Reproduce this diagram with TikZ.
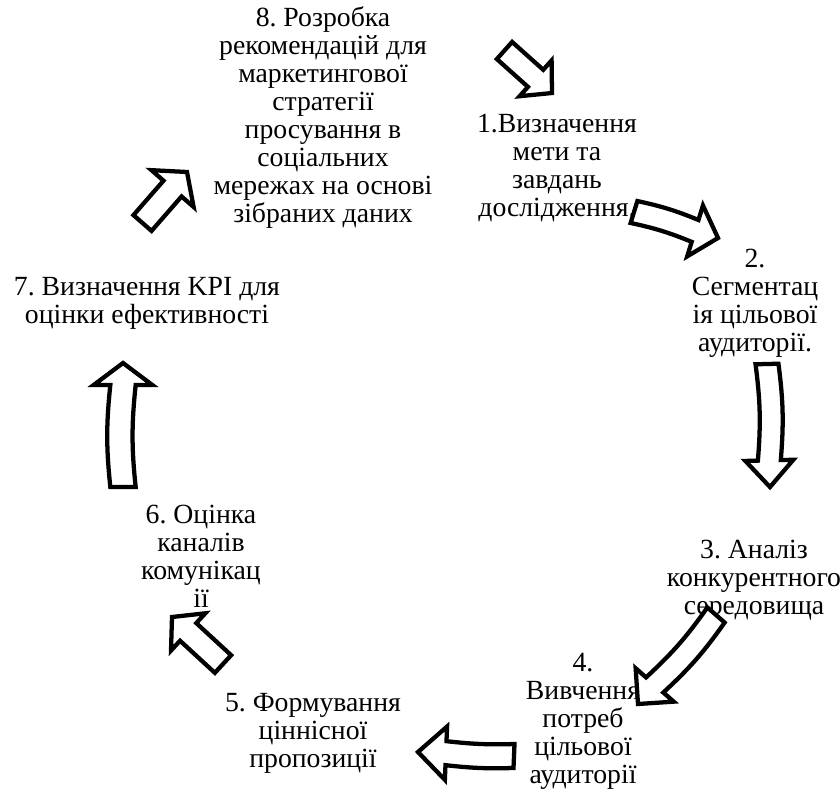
\documentclass[tikz,border=0pt]{standalone}
\usepackage{fontspec}
\setmainfont{Liberation Serif}
\usetikzlibrary{calc}
\frenchspacing

% Block arrow: #1 name, #2 tail centre, #3 tip, #4 bend of the shaft,
% #5 half shaft width, #6 half head width, #7 head length
\newcommand\blockarrow[7]{%
  \coordinate (#1-t) at #2;
  \coordinate (#1-p) at #3;
  \coordinate (#1-b) at ($(#1-p)!#7!(#1-t)$);
  \draw[arrowbody]
    ($(#1-t)!#5!90:(#1-p)$) to[bend left=#4]
    ($(#1-b)!#5!90:(#1-p)$) --
    ($(#1-b)!#6!90:(#1-p)$) --
    (#1-p) --
    ($(#1-b)!#6!-90:(#1-p)$) --
    ($(#1-b)!#5!-90:(#1-p)$) to[bend right=#4]
    ($(#1-t)!#5!-90:(#1-p)$) -- cycle;
}

\begin{document}
\begin{tikzpicture}[x=0.75pt,y=-0.75pt,
  steplabel/.style={align=center, inner sep=0pt,
    font=\fontsize{20.8pt}{21pt}\selectfont},
  arrowbody/.style={draw=black, fill=white, line width=3.2pt, line join=miter}]
\useasboundingbox (0,0) rectangle (840,801);

% stage labels
\node[steplabel] (n8) at (323,118) {8. Розробка\\рекомендацій для\\маркетингової\\стратегії\\просування в\\соціальних\\мережах на основі\\зібраних даних};
\node[steplabel] (n1) at (557,168) {1.Визначення\\мети та\\завдань\\дослідження.};
\node[steplabel] (n2) at (755,303) {2.\\Сегментац\\ія цільової\\аудиторії.};
\node[steplabel] (n3) at (754,580) {3. Аналіз\\конкурентного\\середовища};
\node[steplabel] (n4) at (583,721) {4.\\Вивчення\\потреб\\цільової\\аудиторії};
\node[steplabel] (n5) at (313,733) {5. Формування\\ціннісної\\пропозиції};
\node[steplabel] (n6) at (201,556) {6. Оцінка\\каналів\\комунікац\\ії};
\node[steplabel] (n7) at (147,303) {7. Визначення KPI для\\оцінки ефективності};

% arrows of the cycle
\blockarrow{a81}{(504.5,50.5)}{(552,93)}{0}{8.6pt}{18pt}{16.5pt}
\blockarrow{a12}{(634,212)}{(718,238)}{5}{8.6pt}{20pt}{18pt}
\blockarrow{a23}{(767,364)}{(770,487)}{6}{8.6pt}{18pt}{20pt}
\blockarrow{a34}{(716,615)}{(638,704)}{6}{8.6pt}{19pt}{19pt}
\blockarrow{a45}{(514,756)}{(418,752)}{4}{9pt}{20pt}{21pt}
\blockarrow{a56}{(223,664)}{(172,617)}{0}{9pt}{19pt}{16.5pt}
\blockarrow{a67}{(123,487)}{(123,363)}{6}{9.5pt}{22pt}{16.5pt}
\blockarrow{a78}{(142.5,223)}{(187,172)}{0}{9pt}{21pt}{16.5pt}
\end{tikzpicture}
\end{document}
